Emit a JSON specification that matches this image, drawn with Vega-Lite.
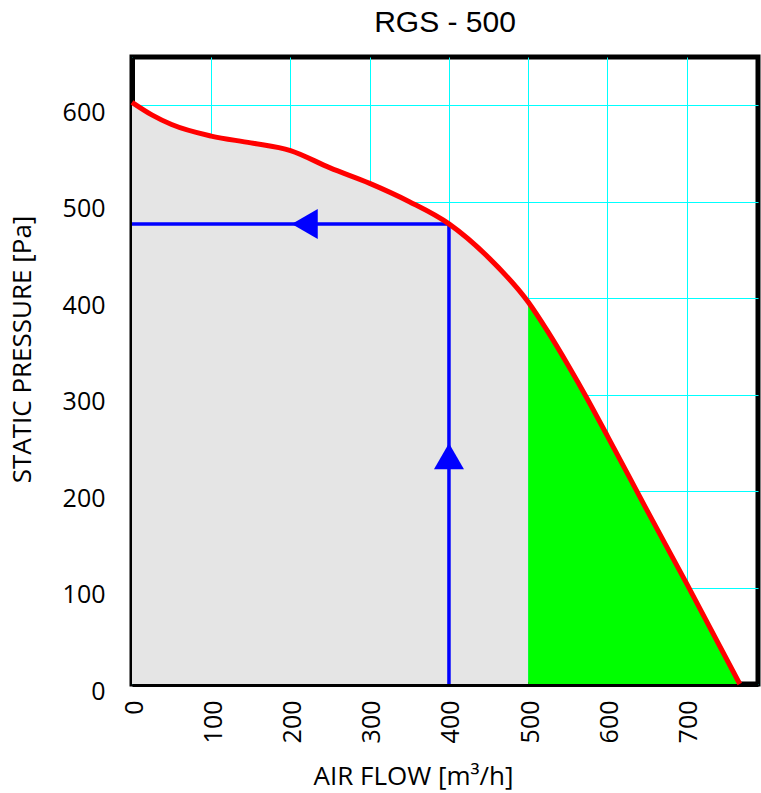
{
  "$schema": "https://vega.github.io/schema/vega-lite/v6.json",
  "width": 626,
  "height": 627,
  "autosize": "none",
  "padding": {"left": 132, "top": 57, "right": 3, "bottom": 109},
  "title": {"text": "RGS - 500", "font": "Liberation Sans", "fontSize": 30, "fontWeight": "normal", "color": "#000000", "offset": 19, "anchor": "middle"},
  "config": {
    "view": {"stroke": "#000000", "strokeWidth": 5},
    "axis": {"gridColor": "#00ffff", "gridWidth": 1, "gridOpacity": 1, "ticks": false, "domain": true, "domainColor": "#000000", "domainWidth": 5, "zindex": 1,
      "labelFont": "Open Sans", "labelFontSize": 25, "labelColor": "#000000",
      "titleFont": "Open Sans", "titleFontSize": 26, "titleFontWeight": "normal", "titleColor": "#000000"}
  },
  "datasets": {
    "curve": [
      {"flow": 0, "pressure": 603},
      {"flow": 25, "pressure": 590},
      {"flow": 50, "pressure": 580},
      {"flow": 100, "pressure": 568},
      {"flow": 150, "pressure": 561},
      {"flow": 200, "pressure": 553},
      {"flow": 250, "pressure": 535},
      {"flow": 300, "pressure": 519},
      {"flow": 350, "pressure": 500},
      {"flow": 400, "pressure": 477},
      {"flow": 450, "pressure": 442},
      {"flow": 500, "pressure": 396},
      {"flow": 525, "pressure": 365},
      {"flow": 550, "pressure": 331},
      {"flow": 575, "pressure": 295},
      {"flow": 600, "pressure": 257},
      {"flow": 650, "pressure": 180},
      {"flow": 700, "pressure": 104},
      {"flow": 767, "pressure": 0}
    ],
    "guide": [
      {"step": 1, "flow": 400, "pressure": 0},
      {"step": 2, "flow": 400, "pressure": 477},
      {"step": 3, "flow": 0, "pressure": 477}
    ],
    "arrows": [
      {"flow": 400, "pressure": 236, "shape": "triangle-up"},
      {"flow": 218, "pressure": 477, "shape": "triangle-left"}
    ]
  },
  "layer": [
    {
      "data": {"name": "curve"},
      "transform": [{"filter": "datum.flow <= 500"}],
      "mark": {"type": "area", "color": "#e5e5e5", "interpolate": "monotone"},
      "encoding": {
        "x": {"field": "flow", "type": "quantitative", "scale": {"domain": [0, 790], "nice": false, "zero": false},
          "axis": {"values": [0, 100, 200, 300, 400, 500, 600, 700], "labelAngle": -90, "labelAlign": "right", "labelBaseline": "middle", "labelPadding": 16, "labelOffset": 2,
            "title": "AIR FLOW [m³/h]", "titleX": 281, "titleY": 100, "titleBaseline": "alphabetic", "titleAlign": "center"}},
        "y": {"field": "pressure", "type": "quantitative", "scale": {"domain": [0, 650], "nice": false},
          "axis": {"values": [0, 100, 200, 300, 400, 500, 600], "labelPadding": 27, "labelBaseline": "middle", "labelOffset": 7,
            "title": "STATIC PRESSURE [Pa]", "titleX": -97, "titleY": 292, "titleBaseline": "bottom", "titleAlign": "center", "titleAngle": -90}}
      }
    },
    {
      "data": {"name": "curve"},
      "transform": [{"filter": "datum.flow >= 500"}],
      "mark": {"type": "area", "color": "#00ff00", "interpolate": "monotone"},
      "encoding": {
        "x": {"field": "flow", "type": "quantitative"},
        "y": {"field": "pressure", "type": "quantitative"}
      }
    },
    {
      "data": {"name": "guide"},
      "mark": {"type": "line", "color": "#0000ff", "strokeWidth": 3.5},
      "encoding": {
        "x": {"field": "flow", "type": "quantitative"},
        "y": {"field": "pressure", "type": "quantitative"},
        "order": {"field": "step", "type": "quantitative"}
      }
    },
    {
      "data": {"name": "curve"},
      "mark": {"type": "line", "color": "#ff0000", "strokeWidth": 5, "interpolate": "monotone"},
      "encoding": {
        "x": {"field": "flow", "type": "quantitative"},
        "y": {"field": "pressure", "type": "quantitative"}
      }
    },
    {
      "data": {"name": "arrows"},
      "mark": {"type": "point", "filled": true, "color": "#0000ff", "opacity": 1, "size": 900},
      "encoding": {
        "x": {"field": "flow", "type": "quantitative"},
        "y": {"field": "pressure", "type": "quantitative"},
        "shape": {"field": "shape", "type": "nominal", "scale": null}
      }
    }
  ]
}
